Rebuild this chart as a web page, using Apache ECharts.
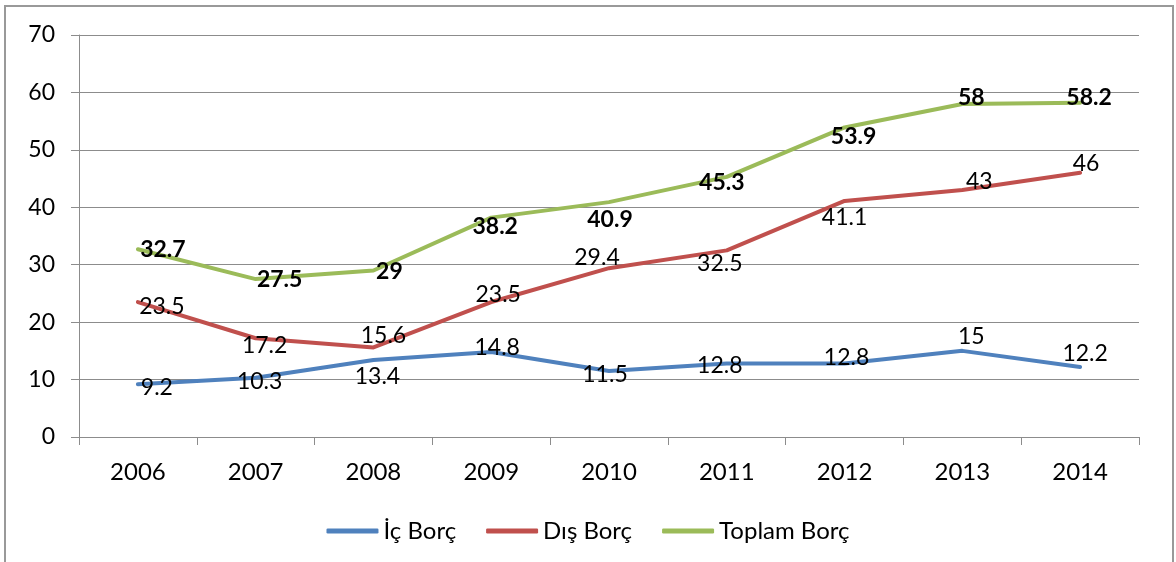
<!DOCTYPE html>
<html>
<head>
<meta charset="utf-8">
<script src="https://cdn.jsdelivr.net/npm/echarts@6/dist/echarts.min.js"></script>
<style>
  html, body { margin: 0; padding: 0; background: #fff; }
  #chart { width: 1176px; height: 562px; }
</style>
</head>
<body>
<div id="chart"></div>
<script>
var years = ['2006', '2007', '2008', '2009', '2010', '2011', '2012', '2013', '2014'];
var icBorc = [9.2, 10.3, 13.4, 14.8, 11.5, 12.8, 12.8, 15, 12.2];
var disBorc = [23.5, 17.2, 15.6, 23.5, 29.4, 32.5, 41.1, 43, 46];
var toplamBorc = [32.7, 27.5, 29, 38.2, 40.9, 45.3, 53.9, 58, 58.2];
var yTicks = [0, 10, 20, 30, 40, 50, 60, 70];

// etiket kaydirmalari (piksel), Excel'deki yerlesime gore
var icOffsets = [[19, 3], [4, 4], [4, 17], [6, -4], [-4, 4], [-7, 2], [2, -6], [9, -14], [5, -13]];
var disOffsets = [[24, 5], [9, 7], [10, -12], [7, -7], [-12, -11], [-7, 13], [0, 17], [17, -8], [6, -9]];
var toplamOffsets = [[25, 0], [24, 1], [16, 1], [4, 9], [1, 17], [-5, 6], [9, 9], [9, -6], [9, -5]];

var FONT = 'Lato, "Open Sans", sans-serif';
var GRID_COLOR = '#8c8c8c';

var myChart = echarts.init(document.getElementById('chart'));

var buildData = function(values, offsets) {
  return values.map(function(v, i) {
    return { value: v, label: { offset: offsets[i] } };
  });
};

var makeSeries = function(name, values, offsets, color, bold) {
  return {
    name: name,
    type: 'line',
    data: buildData(values, offsets),
    symbol: 'circle',
    symbolSize: 1,
    itemStyle: { color: color },
    lineStyle: { color: color, width: 4, cap: 'round', join: 'round' },
    label: {
      show: true,
      position: 'inside',
      color: '#000',
      fontFamily: FONT,
      fontSize: 23,
      fontWeight: bold ? 'bold' : 'normal'
    },
    emphasis: { disabled: true },
    animation: false
  };
};

var option = {
  animation: false,
  grid: { left: 79, right: 37, top: 35, bottom: 125 },
  graphic: [{
    type: 'rect',
    shape: { x: 5, y: 6, width: 1168, height: 600 },
    style: { fill: 'none', stroke: '#999', lineWidth: 2 },
    silent: true
  }],
  legend: {
    data: ['İç Borç', 'Dış Borç', 'Toplam Borç'],
    left: 'center',
    top: 514,
    icon: 'roundRect',
    itemWidth: 52,
    itemHeight: 5,
    itemGap: 30,
    textStyle: { fontFamily: FONT, fontSize: 24, color: '#000' }
  },
  xAxis: {
    type: 'category',
    data: years,
    boundaryGap: true,
    axisLine: { lineStyle: { color: GRID_COLOR } },
    axisTick: { show: true, length: 8, lineStyle: { color: GRID_COLOR } },
    axisLabel: { margin: 23, fontFamily: FONT, fontSize: 24, color: '#000' }
  },
  yAxis: {
    type: 'value',
    min: yTicks[0],
    max: yTicks[yTicks.length - 1],
    interval: 10,
    axisLine: { show: true, lineStyle: { color: GRID_COLOR } },
    axisTick: { show: true, length: 8, lineStyle: { color: GRID_COLOR } },
    splitLine: { lineStyle: { color: GRID_COLOR, width: 1 } },
    axisLabel: { margin: 24, fontFamily: FONT, fontSize: 23, color: '#000' }
  },
  series: [
    makeSeries('İç Borç', icBorc, icOffsets, '#4F81BD', false),
    makeSeries('Dış Borç', disBorc, disOffsets, '#C0504D', false),
    makeSeries('Toplam Borç', toplamBorc, toplamOffsets, '#9BBB59', true)
  ]
};

myChart.setOption(option, true);
</script>
</body>
</html>
